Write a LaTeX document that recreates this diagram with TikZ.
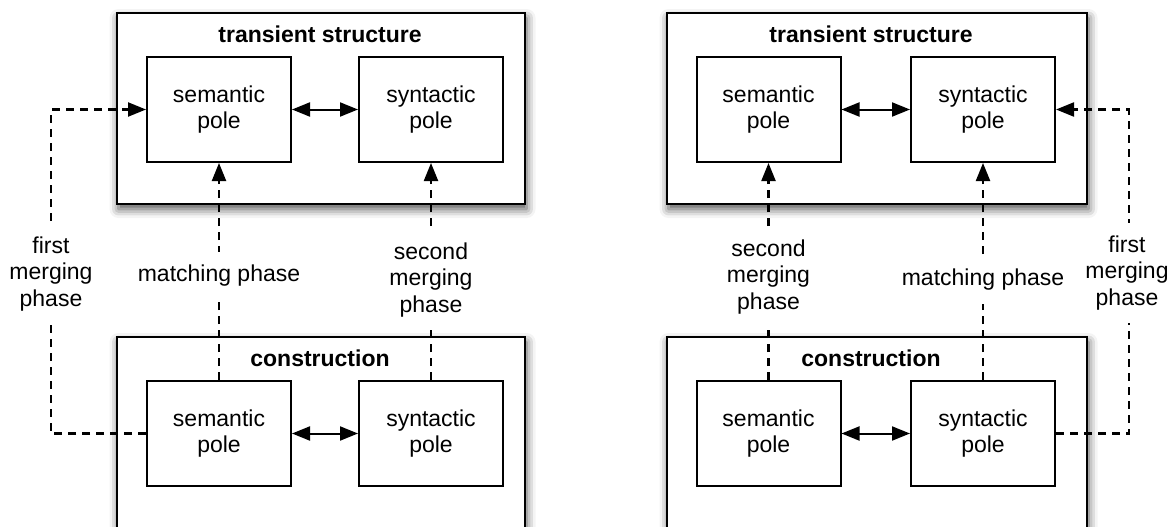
\documentclass[tikz,border=0pt]{standalone}
\usepackage{fontspec}
\setmainfont{Liberation Sans}
\usetikzlibrary{arrows.meta,shadows.blur}
\begin{document}
\begin{tikzpicture}[x=1pt,y=-1pt,
  font=\fontsize{23}{26.5}\selectfont,
  panel/.style={draw=black, line width=2.6pt, fill=white, inner sep=0pt,
    blur shadow={shadow xshift=1.5pt, shadow yshift=-5pt,
                 shadow blur radius=9pt, shadow opacity=70}},
  pole/.style={draw=black, line width=2pt, fill=white, inner sep=0pt,
    minimum width=144pt, minimum height=105pt, align=center},
  title/.style={font=\fontsize{23}{26.5}\selectfont\bfseries, inner sep=0pt},
  flow/.style={line width=2.2pt, dash pattern=on 8pt off 6pt},
  tip/.style={-{Triangle[length=18pt,width=14pt]}},
  link/.style={line width=2pt,
    {Triangle[length=18pt,width=14pt]}-{Triangle[length=18pt,width=14pt]}},
  phase/.style={fill=white, align=center, inner xsep=8pt, inner ysep=13pt}
]
\useasboundingbox (0,0) rectangle (1173,527);
\clip (0,0) rectangle (1173,527);

% ---------- left: parsing direction ----------
\node[panel, minimum width=408pt, minimum height=191pt] (tsL) at (321,108.5) {};
\node[panel, minimum width=408pt, minimum height=233pt] (cxL) at (321,453.5) {};
\node[title] (tsLt) at (320,34) {transient structure};
\node[title] (cxLt) at (320,358) {construction};

\node[pole] (tsLsem) at (219,109.5) {semantic\\pole};
\node[pole] (tsLsyn) at (431,109.5) {syntactic\\pole};
\node[pole] (cxLsem) at (219,433.5) {semantic\\pole};
\node[pole] (cxLsyn) at (431,433.5) {syntactic\\pole};

\draw[link] (tsLsem) -- (tsLsyn);
\draw[link] (cxLsem) -- (cxLsyn);

\coordinate (fL) at (51,0);
\draw[flow, tip] (cxLsem.west) -- (cxLsem.west -| fL) -- (tsLsem.west -| fL) -- (tsLsem.west);
\draw[flow, tip] (cxLsem.north) -- (tsLsem.south);
\draw[flow, tip] (cxLsyn.north) -- (tsLsyn.south);

\node[phase] (fLlab) at (51,274) {first\\merging\\phase};
\node[phase] (mLlab) at (219,276) {matching phase};
\node[phase] (sLlab) at (431,280) {second\\merging\\phase};

% ---------- right: production direction ----------
\node[panel, minimum width=420pt, minimum height=191pt] (tsR) at (877,108.5) {};
\node[panel, minimum width=420pt, minimum height=233pt] (cxR) at (877,453.5) {};
\node[title] (tsRt) at (871,34) {transient structure};
\node[title] (cxRt) at (871,358) {construction};

\node[pole] (tsRsem) at (768.5,109.5) {semantic\\pole};
\node[pole] (tsRsyn) at (983,109.5) {syntactic\\pole};
\node[pole] (cxRsem) at (768.5,433.5) {semantic\\pole};
\node[pole] (cxRsyn) at (983,433.5) {syntactic\\pole};

\draw[link] (tsRsem) -- (tsRsyn);
\draw[link] (cxRsem) -- (cxRsyn);

\coordinate (fR) at (1129,0);
\draw[flow, tip] (cxRsyn.east) -- (cxRsyn.east -| fR) -- (tsRsyn.east -| fR) -- (tsRsyn.east);
\draw[flow, tip] (cxRsem.north) -- (tsRsem.south);
\draw[flow, tip] (cxRsyn.north) -- (tsRsyn.south);

\node[phase] (sRlab) at (768.5,277) {second\\merging\\phase};
\node[phase] (mRlab) at (983,280) {matching phase};
\node[phase] (fRlab) at (1127,273) {first\\merging\\phase};
\end{tikzpicture}
\end{document}
